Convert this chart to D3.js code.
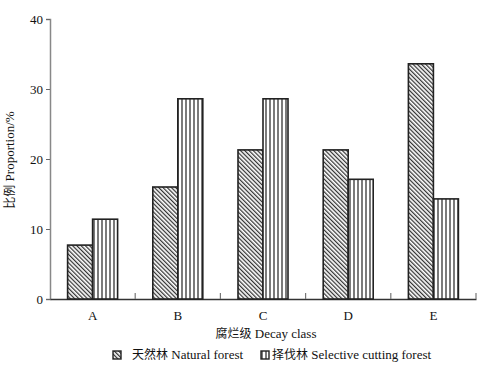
<!DOCTYPE html>
<html><head><meta charset="utf-8">
<script src="https://cdn.jsdelivr.net/npm/d3@7"></script>
<style>body{margin:0;background:#fff}svg{display:block}text{font-family:"Liberation Serif","Times New Roman","Noto Sans CJK SC",serif;fill:#111}</style>
</head><body><svg id="c" width="484" height="373"></svg>
<script>
const categories = ["A","B","C","D","E"];
const naturalForest = [7.7, 16.0, 21.3, 21.3, 33.6];
const selectiveCutting = [11.4, 28.6, 28.6, 17.1, 14.3];
const yTicks = [0, 10, 20, 30, 40];
const seriesCn = ["天然林", "择伐林"];
const seriesEn = ["Natural forest", "Selective cutting forest"];

const FONT = '"Liberation Serif","Times New Roman","Noto Sans CJK SC",serif';
const svg = d3.select("#c");
const m = {l:50, r:476, t:19, b:299};
const x = d3.scaleBand().domain(categories).range([m.l, m.r]).paddingInner(0).paddingOuter(0);
const y = d3.scaleLinear().domain([0, 40]).range([m.b, m.t]);
const bw = 25;

const defs = svg.append("defs");
const p1 = defs.append("pattern").attr("id","diag").attr("patternUnits","userSpaceOnUse")
  .attr("width",3).attr("height",3).attr("patternTransform","rotate(-45)");
p1.append("rect").attr("width",3).attr("height",3).attr("fill","#fff");
p1.append("line").attr("x1",0.6).attr("y1",-1).attr("x2",0.6).attr("y2",4).attr("stroke","#333").attr("stroke-width",1.3);
const p2 = defs.append("pattern").attr("id","vert").attr("patternUnits","userSpaceOnUse")
  .attr("width",4).attr("height",4).attr("x",1);
p2.append("rect").attr("width",4).attr("height",4).attr("fill","#fff");
p2.append("line").attr("x1",1).attr("y1",-1).attr("x2",1).attr("y2",5).attr("stroke","#222").attr("stroke-width",1.2);

// axes
const yAxis = d3.axisLeft(y).tickValues(yTicks).tickSize(4).tickPadding(3);
const gy = svg.append("g").attr("transform",`translate(${m.l},0)`).call(yAxis).attr("font-family",FONT);
gy.select(".domain").attr("stroke","#888").attr("stroke-width",1.5);
gy.selectAll(".tick line").attr("stroke","#666");
gy.selectAll("text").style("font-size","13px").attr("fill","#111");

const xAxis = d3.axisBottom(x).tickSize(0).tickPadding(12);
const gx = svg.append("g").attr("transform",`translate(0,${m.b})`).call(xAxis).attr("font-family",FONT);
gx.select(".domain").attr("stroke","#333").attr("stroke-width",1.3);
gx.selectAll("text").style("font-size","13px").attr("fill","#111");
// boundary ticks (inward)
svg.append("g").selectAll("line").data(categories).join("line")
  .attr("x1",d=>x(d) + x.bandwidth()).attr("x2",d=>x(d) + x.bandwidth())
  .attr("y1",m.b).attr("y2",m.b-6).attr("stroke","#777").attr("stroke-width",1.2);

// bars
const g = svg.append("g");
g.selectAll("rect.n").data(naturalForest).join("rect").attr("class","n")
  .attr("x",(d,i)=>x(categories[i]) + x.bandwidth()/2 - bw)
  .attr("y",d=>y(d)).attr("width",bw).attr("height",d=>y(0)-y(d))
  .attr("fill","url(#diag)").attr("stroke","#222").attr("stroke-width",1.6);
g.selectAll("rect.s").data(selectiveCutting).join("rect").attr("class","s")
  .attr("x",(d,i)=>x(categories[i]) + x.bandwidth()/2)
  .attr("y",d=>y(d)).attr("width",bw).attr("height",d=>y(0)-y(d))
  .attr("fill","url(#vert)").attr("stroke","#222").attr("stroke-width",1.6);

function mixed(sel, cn, en){
  sel.append("tspan").style("font-size","12px").text(cn);
  sel.append("tspan").style("font-size","13px").text(" " + en);
}
// titles
mixed(svg.append("text").attr("x",(m.l+m.r)/2+3).attr("y",338).attr("text-anchor","middle"), "腐烂级", "Decay class");
mixed(svg.append("text").attr("transform","translate(14,160) rotate(-90)").attr("text-anchor","middle"), "比例", "Proportion/%");

// legend
const leg = [{x:113, fill:"url(#diag)", i:0}, {x:261, fill:"url(#vert)", i:1}];
leg.forEach(l=>{
  svg.append("rect").attr("x",l.x).attr("y",351).attr("width",8).attr("height",8)
    .attr("fill",l.fill).attr("stroke","#222").attr("stroke-width",1.4);
  mixed(svg.append("text").attr("x",l.x+(l.i?11:19)).attr("y",359), seriesCn[l.i], seriesEn[l.i]);
});
</script></body></html>
